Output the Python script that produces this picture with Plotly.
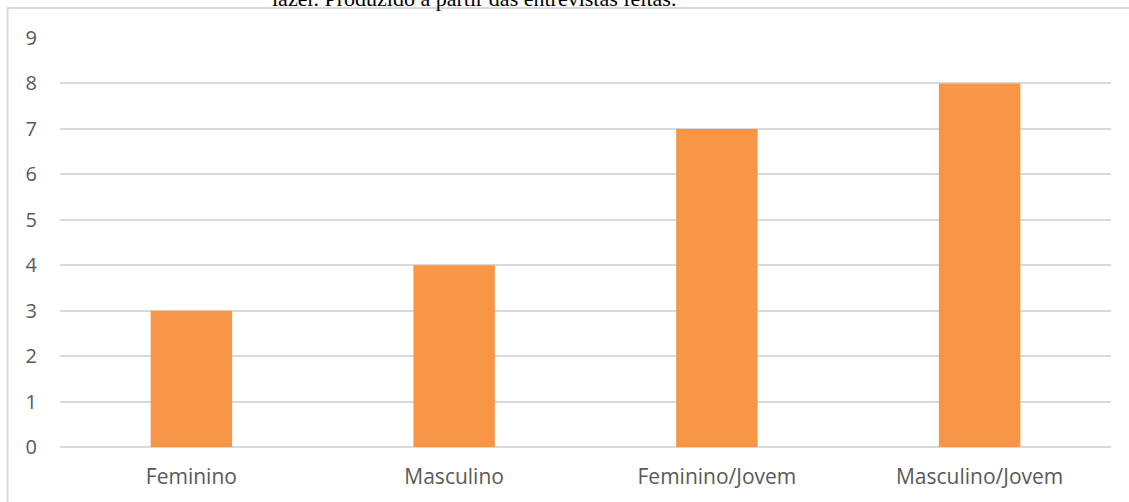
import plotly.graph_objects as go

# Respondent groups and counts
categories = ["Feminino", "Masculino", "Feminino/Jovem", "Masculino/Jovem"]
counts = [3, 4, 7, 8]
y_ticks = [0, 1, 2, 3, 4, 5, 6, 7, 8, 9]

caption = "lazer. Produzido a partir das entrevistas feitas."

W, H = 1129, 502
L, R, T, B = 59.5, 17.5, 38, 55

fig = go.Figure(
    go.Bar(
        x=categories,
        y=counts,
        marker=dict(color="#F79646", line=dict(width=0)),
        hoverinfo="x+y",
    )
)

fig.update_layout(
    width=W,
    height=H,
    margin=dict(l=L, r=R, t=T, b=B, pad=0),
    paper_bgcolor="white",
    plot_bgcolor="white",
    bargap=0.69,
    showlegend=False,
    font=dict(family="Open Sans, sans-serif", size=21, color="#595959"),
)

fig.update_xaxes(
    automargin=False,
    showgrid=False,
    showline=False,
    ticks="",
    ticklabelstandoff=15,
    tickfont=dict(size=21, color="#595959"),
)
fig.update_yaxes(
    automargin=False,
    range=[0, 9],
    tickvals=y_ticks,
    showgrid=True,
    gridcolor="#D9D9D9",
    gridwidth=2,
    zeroline=True,
    zerolinecolor="#D9D9D9",
    zerolinewidth=2,
    showline=False,
    ticks="",
    ticklabelstandoff=22,
    tickfont=dict(size=20, color="#595959"),
)

# Light frame around the chart area (left and top edges visible)
plot_h = H - T - B
plot_w = W - L - R
fig.add_shape(
    type="rect",
    xref="paper", yref="paper",
    x0=(7 - L) / plot_w, x1=(W + 10 - L) / plot_w,
    y0=(H - B - (H + 10)) / plot_h, y1=(H - B - 8) / plot_h,
    line=dict(color="#D9D9D9", width=2),
    fillcolor="rgba(0,0,0,0)",
    layer="below",
)

# Caption line running above the chart frame
fig.add_annotation(
    text=caption,
    xref="paper", yref="paper",
    x=(270 - L) / plot_w, xanchor="left",
    y=(H - B + 2) / plot_h, yanchor="middle",
    showarrow=False,
    font=dict(family="Liberation Serif, Times New Roman, serif", size=22, color="black"),
)

fig.write_html("out.html")
